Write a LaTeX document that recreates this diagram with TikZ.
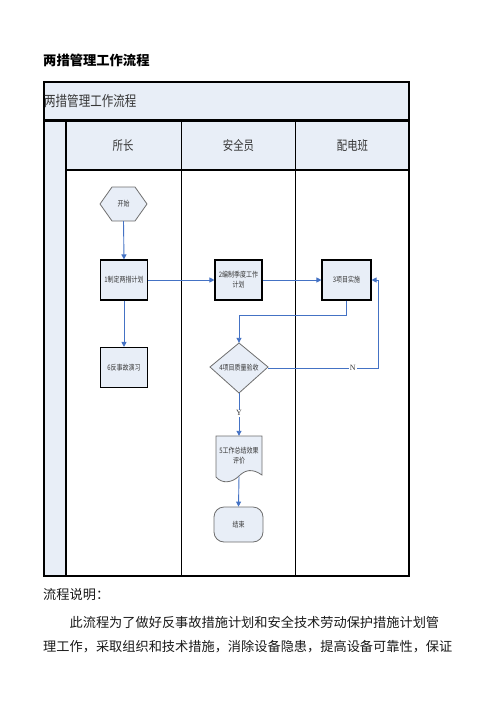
\documentclass[tikz,border=0pt]{standalone}
\usepackage{fontspec}
\setmainfont{Noto Sans CJK SC}
\newfontfamily\cjkn[FakeStretch=0.8]{Noto Sans CJK SC}
\newfontfamily\serifl{Liberation Serif}
\usetikzlibrary{arrows.meta}
\definecolor{lanefill}{RGB}{232,238,247}
\definecolor{flowblue}{RGB}{68,114,196}
\definecolor{txtgray}{RGB}{55,55,55}
\definecolor{edgegray}{RGB}{110,110,110}
\tikzset{
  frameline/.style={line width=1.3pt,black},
  procbox/.style={draw=black,line width=1.1pt,fill=lanefill,minimum width=47pt,minimum height=40pt,inner sep=0pt,align=center,font=\cjkn\fontsize{7.5}{10}\selectfont,text=txtgray},
  ghost/.style={inner sep=0pt,align=center,font=\cjkn\fontsize{7.5}{10}\selectfont,text=txtgray},
  outl/.style={draw=edgegray,line width=0.8pt,fill=lanefill},
  flow/.style={draw=flowblue,line width=0.9pt,-{Triangle[width=5pt,length=5pt]}},
  lbl/.style={fill=white,inner sep=1pt,font=\serifl\fontsize{8}{9}\selectfont,text=txtgray},
  lanehead/.style={font=\cjkn\fontsize{13}{15}\selectfont,text=txtgray},
  bodytxt/.style={anchor=west,inner sep=0pt,font=\fontsize{13.2}{15}\selectfont,text=black!90}
}
\begin{document}
\begin{tikzpicture}[x=1pt,y=-1pt]
\useasboundingbox (0,0) rectangle (496,702);
% page title
\node[anchor=west,inner sep=0pt,font=\bfseries\fontsize{13.3}{15}\selectfont] (ptitle) at (43,60) {两措管理工作流程};
% frame fills
\fill[lanefill] (44,82) rectangle (409,170);
\fill[lanefill] (44,170) rectangle (66,576);
% frame lines
\draw[frameline] (44,82) rectangle (409,576);
\draw[line width=2.4pt] (44,120.5) -- (409,120.5);
\draw[frameline] (66,120.5) -- (66,576);
\draw[frameline] (181.5,120.5) -- (181.5,576);
\draw[frameline] (295.5,120.5) -- (295.5,576);
\draw[frameline] (66,170) -- (409,170);
% frame texts
\node[anchor=west,inner sep=0pt,font=\cjkn\fontsize{14.4}{16}\selectfont,text=txtgray] (ftitle) at (44,101.5) {两措管理工作流程};
\node[lanehead] (h1) at (123,146) {所长};
\node[lanehead] (h2) at (238.5,146) {安全员};
\node[lanehead] (h3) at (352.5,146) {配电班};
% start hexagon
\draw[outl] (100,204) -- (112,187) -- (135,187) -- (147,204) -- (135,221) -- (112,221) -- cycle;
\node[ghost,minimum width=47pt,minimum height=34pt] (start) at (123.5,204) {开始};
% process boxes
\node[procbox] (b1) at (124,280) {1制定两措计划};
\node[procbox] (b6) at (124,367.5) {6反事故演习};
\node[procbox] (b2) at (238.5,280) {2编制季度工作\\计划};
\node[procbox,minimum width=49pt] (b3) at (346.5,280) {3项目实施};
% diamond
\draw[outl] (210,367) -- (239,343) -- (268,367) -- (239,393) -- cycle;
\node[ghost,minimum width=58pt,minimum height=50pt] (d4) at (239,368) {4项目质量验收};
% document
\draw[outl] (216,436) -- (262,436) -- (262,475) .. controls (252,468) and (245,470) .. (239,476) .. controls (232,483) and (222,484) .. (216,477) -- cycle;
\node[ghost,minimum width=46pt,minimum height=40pt] (doc5) at (239,456) {5工作总结效果\\评价};
\coordinate (doc5b) at (239,476.5);
% terminator
\node[draw=edgegray,line width=0.8pt,fill=lanefill,rounded corners=10pt,minimum width=49pt,minimum height=35pt,inner sep=0pt,font=\cjkn\fontsize{7.5}{10}\selectfont,text=txtgray] (end) at (238.5,524.5) {结束};
% connectors
\draw[flow] (start.south) -- (b1.north);
\draw[flow] (b1.south) -- (b6.north);
\draw[flow] (b1.east) -- (b2.west);
\draw[flow] (b2.east) -- (b3.west);
\draw[flow] (b3.south) -- (b3.south |- 0,315) -| (d4.north);
\coordinate (nr) at (378,368);
\draw[flow] (d4.east) -- node[lbl,pos=0.77] {N} (nr) |- (b3.east);
\draw[flow] (d4.south) -- node[lbl,pos=0.47] {Y} (doc5.north);
\draw[flow] (doc5b) -- (end.north);
% description text
\node[bodytxt] (dhead) at (43,595) {流程说明：};
\node[bodytxt] (dl1) at (69.4,622.5) {此流程为了做好反事故措施计划和安全技术劳动保护措施计划管};
\node[bodytxt] (dl2) at (43,646.5) {理工作，采取组织和技术措施，消除设备隐患，提高设备可靠性，保证};
\end{tikzpicture}
\end{document}
